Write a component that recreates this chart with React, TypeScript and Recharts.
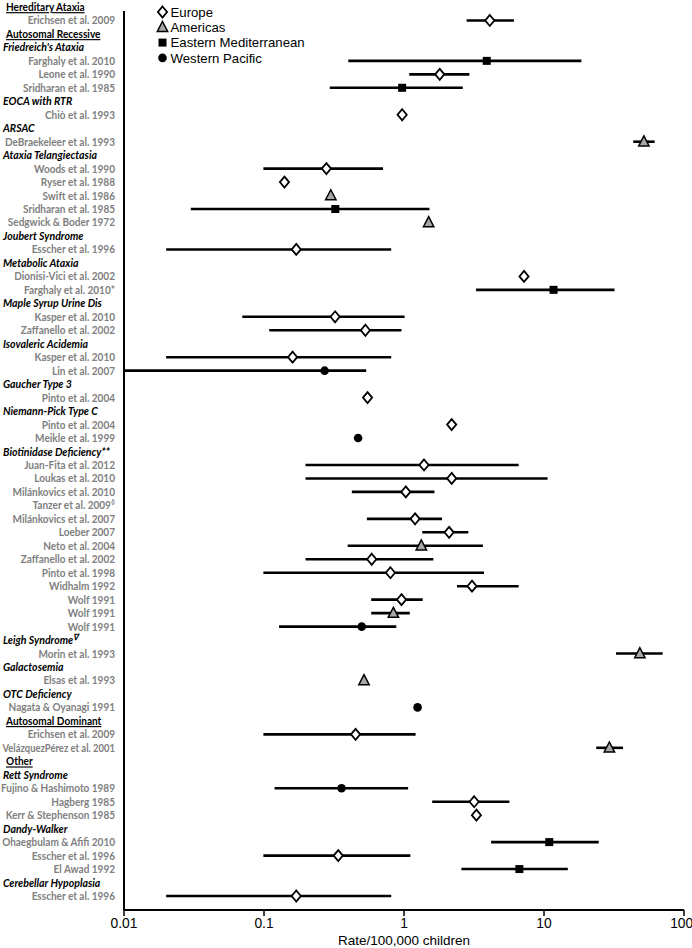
import React from 'react';
import { ScatterChart, Scatter, XAxis, YAxis, ErrorBar, ReferenceLine, Legend } from 'recharts';

// Row labels (top to bottom). '^' marks a superscript.
const labels: string[] = [
  'Hereditary Ataxia', 'Erichsen et al. 2009', 'Autosomal Recessive', "Friedreich's Ataxia",
  'Farghaly et al. 2010', 'Leone et al. 1990', 'Sridharan et al. 1985', 'EOCA with RTR',
  'Chiò et al. 1993', 'ARSAC', 'DeBraekeleer et al. 1993', 'Ataxia Telangiectasia',
  'Woods et al. 1990', 'Ryser et al. 1988', 'Swift et al. 1986', 'Sridharan et al. 1985',
  'Sedgwick & Boder 1972', 'Joubert Syndrome', 'Esscher et al. 1996', 'Metabolic Ataxia',
  'Dionisi-Vici et al. 2002', 'Farghaly et al. 2010*', 'Maple Syrup Urine Dis', 'Kasper et al. 2010',
  'Zaffanello et al. 2002', 'Isovaleric Acidemia', 'Kasper et al. 2010', 'Lin et al. 2007',
  'Gaucher Type 3', 'Pinto et al. 2004', 'Niemann-Pick Type C', 'Pinto et al. 2004',
  'Meikle et al. 1999', 'Biotinidase Deficiency**', 'Juan-Fita et al. 2012', 'Loukas et al. 2010',
  'Milánkovics et al. 2010', 'Tanzer et al. 2009^◊', 'Milánkovics et al. 2007', 'Loeber 2007',
  'Neto et al. 2004', 'Zaffanello et al. 2002', 'Pinto et al. 1998', 'Widhalm 1992',
  'Wolf 1991', 'Wolf 1991', 'Wolf 1991', 'Leigh Syndrome^∇',
  'Morin et al. 1993', 'Galactosemia', 'Elsas et al. 1993', 'OTC Deficiency',
  'Nagata & Oyanagi 1991', 'Autosomal Dominant', 'Erichsen et al. 2009', 'VelázquezPérez et al. 2001',
  'Other', 'Rett Syndrome', 'Fujino & Hashimoto 1989', 'Hagberg 1985',
  'Kerr & Stephenson 1985', 'Dandy-Walker', 'Ohaegbulam & Afifi 2010', 'Esscher et al. 1996',
  'El Awad 1992', 'Cerebellar Hypoplasia', 'Esscher et al. 1996',
];

// h = group header, s = disease subheader, d = study
const labelKinds: string[] = [
  'h', 'd', 'h', 's', 'd', 'd', 'd', 's', 'd', 's', 'd', 's', 'd', 'd', 'd', 'd', 'd', 's', 'd', 's',
  'd', 'd', 's', 'd', 'd', 's', 'd', 'd', 's', 'd', 's', 'd', 'd', 's', 'd', 'd', 'd', 'd', 'd', 'd',
  'd', 'd', 'd', 'd', 'd', 'd', 'd', 's', 'd', 's', 'd', 's', 'd', 'h', 'd', 'd', 'h', 's', 'd', 'd',
  'd', 's', 'd', 'd', 'd', 's', 'd',
];

// E = Europe, A = Americas, M = Eastern Mediterranean, W = Western Pacific
const regions: string[] = [
  '', 'E', '', '', 'M', 'E', 'M', '', 'E', '', 'A', '', 'E', 'E', 'A', 'M', 'A', '', 'E', '',
  'E', 'M', '', 'E', 'E', '', 'E', 'W', '', 'E', '', 'E', 'W', '', 'E', 'E', 'E', '', 'E', 'E',
  'A', 'E', 'E', 'E', 'E', 'A', 'W', '', 'A', '', 'A', '', 'W', '', 'E', 'A', '', '', 'W', 'E',
  'E', '', 'M', 'E', 'M', '', 'E',
];

const rates: (number | null)[] = [
  null, 4.1, null, null, 3.9, 1.8, 0.97, null, 0.97, null, 51.7, null, 0.279, 0.14, 0.30, 0.323, 1.5, null, 0.17, null,
  7.2, 11.7, null, 0.322, 0.53, null, 0.16, 0.271, null, 0.549, null, 2.19, 0.47, null, 1.39, 2.19, 1.03, null, 1.2, 2.1,
  1.33, 0.588, 0.8, 3.06, 0.96, 0.84, 0.499, null, 48.4, null, 0.518, null, 1.25, null, 0.451, 29.3, null, null, 0.358, 3.17,
  3.29, null, 10.9, 0.339, 6.67, null, 0.17,
];

const ciLow: (number | null)[] = [
  null, 2.8, null, null, 0.4, 1.09, 0.295, null, null, null, 43.4, null, 0.099, null, null, 0.03, null, null, 0.02, null,
  null, 3.27, null, 0.07, 0.109, null, 0.02, 0.01, null, null, null, null, null, null, 0.198, 0.198, 0.424, null, 0.543, 1.35,
  0.396, 0.198, 0.099, 2.39, 0.583, 0.583, 0.128, null, 32.7, null, null, null, null, null, 0.099, 23.6, null, null, 0.119, 1.59,
  null, null, 4.19, 0.099, 2.57, null, 0.02,
];

const ciHigh: (number | null)[] = [
  null, 6.1, null, null, 18.5, 2.93, 2.63, null, null, null, 61.7, null, 0.708, null, null, 1.52, null, null, 0.81, null,
  null, 31.9, null, 1.01, 0.96, null, 0.81, 0.537, null, null, null, null, null, null, 6.59, 10.6, 1.65, null, 1.87, 2.88,
  3.66, 1.62, 3.73, 6.59, 1.36, 1.1, 0.881, null, 70.4, null, null, null, null, null, 1.21, 36.7, null, null, 1.07, 5.66,
  null, null, 24.6, 1.11, 14.8, null, 0.81,
];

const regionCodes = ['E', 'A', 'M', 'W'];
const regionNames = ['Europe', 'Americas', 'Eastern Mediterranean', 'Western Pacific'];
const xTicks = [0.01, 0.1, 1, 10, 100];
const xTickLabels = ['0.01', '0.1', '1', '10', '100'];
const axisTitle = 'Rate/100,000 children';

const rowIndex = labels.map((_, i) => i);

const seriesFor = (code: string) =>
  rowIndex
    .filter((i) => regions[i] === code && rates[i] != null)
    .map((i) => {
      const v = rates[i] as number;
      const lo = ciLow[i] ?? v;
      const hi = ciHigh[i] ?? v;
      return { x: v, y: i, err: [v - lo, hi - v] };
    });

const drawMarker = (code: string, cx: number, cy: number, key?: string) => {
  if (code === 'E')
    return (
      <path key={key} d={`M${cx},${cy - 5.5}L${cx + 4.6},${cy}L${cx},${cy + 5.5}L${cx - 4.6},${cy}Z`}
        fill="#fff" stroke="#000" strokeWidth={1.8} />
    );
  if (code === 'A')
    return (
      <path key={key} d={`M${cx},${cy - 5.8}L${cx + 5.2},${cy + 4.2}L${cx - 5.2},${cy + 4.2}Z`}
        fill="#a6a6a6" stroke="#000" strokeWidth={1.5} strokeLinejoin="miter" />
    );
  if (code === 'M')
    return <rect key={key} x={cx - 4} y={cy - 4} width={8} height={8} fill="#000" />;
  return <circle key={key} cx={cx} cy={cy} r={4.3} fill="#000" />;
};

const makeShape = (code: string) => (props: any) => drawMarker(code, props.cx, props.cy);

const labelFont = "Lato, 'Open Sans', sans-serif";

const RowLabel = (props: any) => {
  const i = props.payload.value as number;
  const kind = labelKinds[i];
  const [main, sup] = labels[i].split('^');
  const y = props.y;
  if (kind === 'h') {
    return (
      <text transform={`translate(6,${y}) scale(0.87,1)`} x={0} y={0} dy="0.35em" textAnchor="start"
        fontFamily={labelFont} fontWeight={700} fontSize={11.6} fill="#000" textDecoration="underline">
        {main}
      </text>
    );
  }
  if (kind === 's') {
    return (
      <text transform={`translate(3,${y}) scale(0.91,1)`} x={0} y={0} dy="0.35em" textAnchor="start"
        fontFamily={labelFont} fontWeight={700} fontStyle="italic" fontSize={11.6} fill="#000">
        {main}
        {sup ? <tspan fontSize={8.5} dy={-4}>{sup}</tspan> : null}
      </text>
    );
  }
  const sx = main.length > 24 ? 0.83 : 0.88;
  return (
    <text transform={`translate(115,${y}) scale(${sx},1)`} x={0} y={0} dy="0.35em" textAnchor="end"
      fontFamily={labelFont} fontWeight={700} fontSize={11.4} fill="#808080">
      {main}
      {sup ? <tspan fontSize={8} dy={-4}>{sup}</tspan> : null}
    </text>
  );
};

const LegendBox = () => (
  <svg width={220} height={64} style={{ display: 'block' }}>
    {regionNames.map((name, i) => (
      <g key={name}>
        {drawMarker(regionCodes[i], 12.5, 9 + i * 15.3)}
        <text x={20.5} y={9 + i * 15.3} dy="0.36em" fontFamily="'Liberation Sans', Arial, sans-serif"
          fontSize={13.2} fill="#000">
          {name}
        </text>
      </g>
    ))}
  </svg>
);

export default function App() {
  return (
    <div style={{ position: 'absolute', left: 0, top: 0, width: 692, height: 948, background: '#fff' }}>
      <ScatterChart width={692} height={948} margin={{ top: 2, right: 8, bottom: 0, left: 0 }}>
        <XAxis
          type="number"
          dataKey="x"
          scale="log"
          domain={[0.01, 100]}
          allowDataOverflow
          ticks={xTicks}
          tickFormatter={(v: number) => xTickLabels[xTicks.indexOf(v)] ?? String(v)}
          height={38}
          tickSize={6}
          axisLine={{ stroke: '#000', strokeWidth: 2 }}
          tickLine={{ stroke: '#000', strokeWidth: 1.5 }}
          tick={{ fill: '#000', fontSize: 13.8, fontFamily: "'Liberation Sans', Arial, sans-serif" }}
          label={{
            value: axisTitle,
            position: 'insideBottom',
            offset: 3,
            style: { fill: '#000', fontSize: 13.5, fontFamily: "'Liberation Sans', Arial, sans-serif" },
          }}
        />
        <YAxis
          type="number"
          dataKey="y"
          domain={[-0.37, 67.04]}
          allowDataOverflow
          reversed
          ticks={rowIndex}
          interval={0}
          width={124}
          axisLine={false}
          tickLine={false}
          tick={<RowLabel />}
        />
        <ReferenceLine
          segment={[{ x: 0.01, y: 0.3 }, { x: 0.01, y: 67.04 }]}
          stroke="#000"
          strokeWidth={2}
        />
        {regionCodes.map((code) => (
          <Scatter key={code} name={code} data={seriesFor(code)} shape={makeShape(code)} isAnimationActive={false}>
            <ErrorBar dataKey="err" direction="x" width={0} stroke="#000" strokeWidth={2.6} />
          </Scatter>
        ))}
        <Legend
          layout="vertical"
          align="center"
          verticalAlign="middle"
          content={<LegendBox />}
          wrapperStyle={{ left: 150, top: 3, width: 220, height: 64 }}
        />
      </ScatterChart>
    </div>
  );
}
